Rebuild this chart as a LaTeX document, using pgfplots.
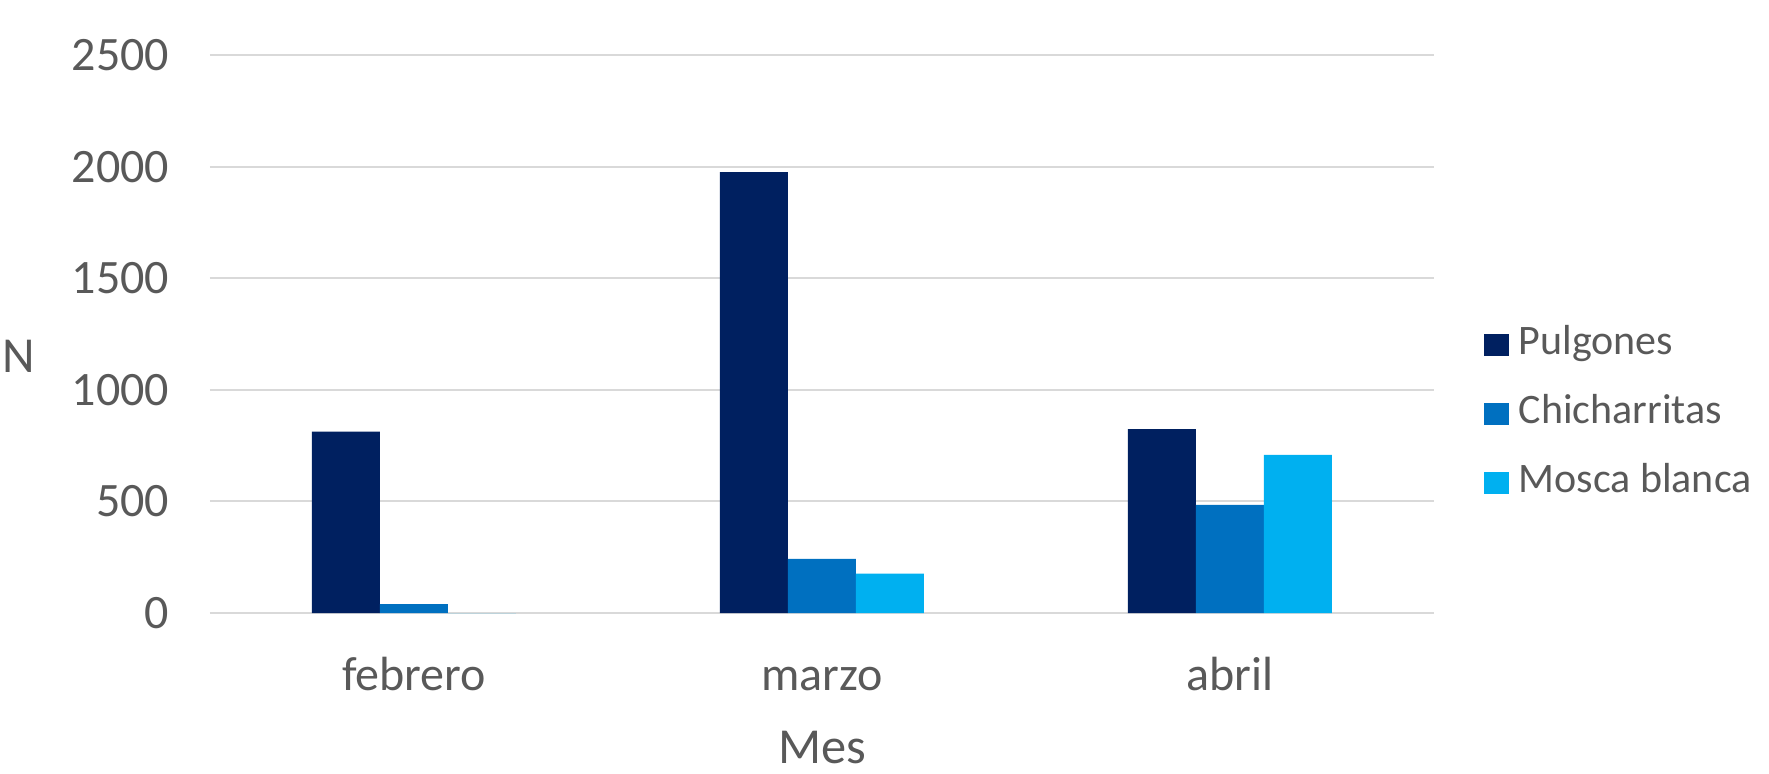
\documentclass[border=0pt]{standalone}
\usepackage{pgfplots}
\pgfplotsset{compat=1.18}
\usepackage{fontspec}
\setmainfont{Carlito}

\definecolor{txt}{HTML}{595959}
\definecolor{gridc}{HTML}{D9D9D9}
\definecolor{pulg}{HTML}{002060}
\definecolor{chich}{HTML}{0070C0}
\definecolor{mosca}{HTML}{00B0F0}

\begin{document}
\begin{tikzpicture}
\useasboundingbox (0,0) rectangle (442.25pt,193.25pt);
\begin{axis}[
  at={(52.5pt,40pt)}, anchor=south west,
  scale only axis, width=306pt, height=139.5pt,
  xmin=-0.5, xmax=2.5, ymin=0, ymax=2500,
  enlargelimits=false,
  ybar=0pt, bar width=17pt,
  xtick={0,1,2}, xticklabels={febrero,marzo,abril},
  ytick={0,500,...,2500},
  major tick length=0pt,
  axis line style={draw=none},
  ymajorgrids, grid style={gridc, line width=0.5pt},
  /pgf/number format/assume math mode=true,
  /pgf/number format/set thousands separator={},
  tick label style={font=\fontsize{12}{14}\selectfont, text=txt},
  yticklabel style={anchor=east, inner sep=0pt, xshift=-10pt},
  xticklabel style={anchor=base, inner sep=0pt, yshift=-19.25pt},
  xlabel={Mes}, ylabel={N},
  label style={font=\fontsize{12.6}{15}\selectfont, text=txt},
  x label style={at={(axis description cs:0.5,0)}, anchor=base, inner sep=0pt, yshift=-37.6pt},
  y label style={at={(axis description cs:-0.1532,0.4606)}, rotate=-90, anchor=east, inner sep=0pt, xshift=3.4pt},
  legend style={at={(1.04,0.357)}, anchor=west, draw=none, fill=none,
    font=\fontsize{10.5}{12.6}\selectfont, text=txt,
    nodes={inner sep=0pt, text height=7.5pt, text depth=2.5pt},
    row sep=7.25pt, column sep=2.5pt, inner sep=0pt},
  legend cell align=left,
  legend image code/.code={\fill[#1] (0pt,-2.8pt) rectangle (6.25pt,2.8pt);},
]
\addplot[fill=pulg, draw=none] coordinates {(0,813) (1,1975) (2,824)};
\addplot[fill=chich, draw=none] coordinates {(0,40) (1,242) (2,485)};
\addplot[fill=mosca, draw=none] coordinates {(0,0) (1,177) (2,709)};
\legend{Pulgones,Chicharritas,Mosca blanca}
\end{axis}
\end{tikzpicture}
\end{document}
